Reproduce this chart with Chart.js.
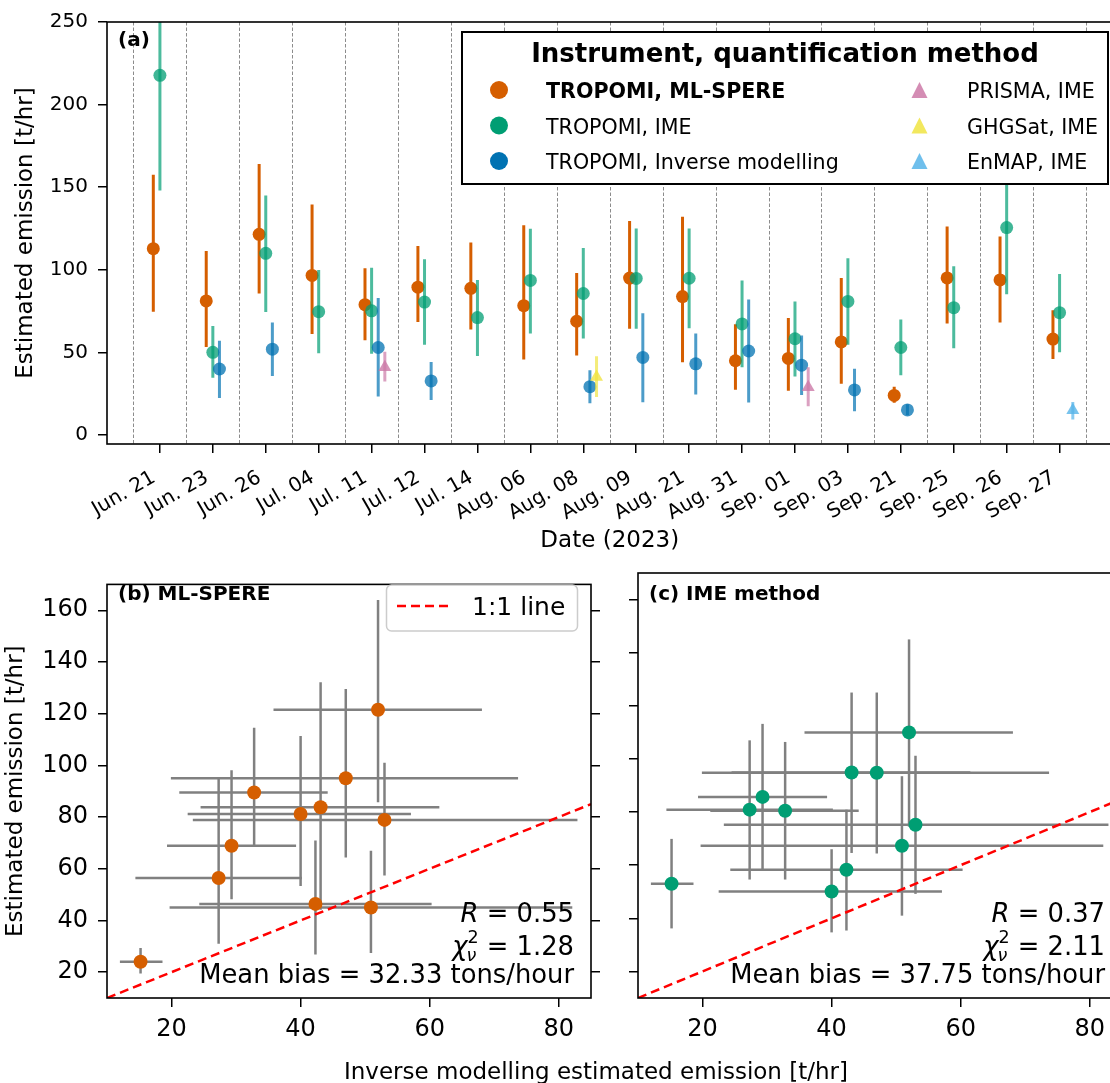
<!DOCTYPE html>
<html>
<head>
<meta charset="utf-8">
<script src="https://cdn.jsdelivr.net/npm/chart.js@4.4.0/dist/chart.umd.min.js"></script>
<style>
  html, body { margin: 0; padding: 0; width: 1110px; height: 1083px; overflow: hidden; background: #fff; position: relative; font-family: "DejaVu Sans", sans-serif; }
  .wrap { position: absolute; }
  #xtitle { position: absolute; left: 0; width: 1192px; top: 1058px; text-align: center; font-size: 23px; color: #000; white-space: nowrap; line-height: 27px; }
</style>
</head>
<body>
<div class="wrap" style="left:0;top:0;width:1120px;height:560px"><canvas id="top" width="1120" height="560"></canvas></div>
<div class="wrap" style="left:0;top:560px;width:600px;height:523px"><canvas id="pb" width="600" height="523"></canvas></div>
<div class="wrap" style="left:600px;top:560px;width:530px;height:523px"><canvas id="pc" width="530" height="523"></canvas></div>
<div id="xtitle">Inverse modelling estimated emission [t/hr]</div>

<script>
// Methane plume emission estimates, summer 2023

const dates = ['Jun. 21','Jun. 23','Jun. 26','Jul. 04','Jul. 11','Jul. 12','Jul. 14','Aug. 06','Aug. 08',
  'Aug. 09','Aug. 21','Aug. 31','Sep. 01','Sep. 03','Sep. 21','Sep. 25','Sep. 26','Sep. 27'];

// TROPOMI, ML-SPERE (value, lower, upper)
const mlVal = [112.8, 81.2, 121.5, 96.6, 78.9, 89.5, 88.8, 78.3, 68.9, 95.0, 83.8, 45.0, 46.4, 56.4, 24.0, 95.1, 93.9, 58.1];
const mlLo  = [74.7, 53.3, 85.7, 61.1, 57.4, 68.4, 63.9, 45.8, 48.2, 64.4, 44.1, 27.4, 26.8, 31.0, 19.5, 67.5, 68.1, 46.1];
const mlHi  = [157.6, 111.4, 164.0, 139.6, 101.0, 114.5, 116.6, 127.0, 98.1, 129.5, 132.1, 67.0, 70.9, 95.0, 29.3, 126.2, 120.2, 75.5];

// TROPOMI, IME
const imeVal = [217.7, 50.1, 110.0, 74.7, 75.2, 80.5, 71.1, 93.6, 85.7, 94.8, 94.9, 67.3, 58.3, 80.9, 53.0, 77.1, 125.6, 74.1];
const imeLo  = [148.0, 34.7, 74.5, 49.5, 49.2, 54.6, 47.9, 61.5, 58.4, 64.4, 64.6, 41.0, 35.4, 54.6, 36.2, 52.5, 85.2, 50.1];
const imeHi  = [288.0, 66.0, 145.0, 99.9, 101.2, 106.4, 93.9, 124.8, 113.2, 125.0, 125.0, 93.5, 80.9, 107.0, 69.9, 102.2, 168.0, 97.5];

// TROPOMI, inverse modelling
const invVal = [null, 40.0, 52.0, null, 53.0, 32.8, null, null, 29.3, 47.0, 43.1, 50.9, 42.3, 27.3, 15.2, null, null, null];
const invLo  = [null, 22.5, 35.8, null, 23.3, 21.2, null, null, 19.3, 19.9, 24.5, 19.7, 24.3, 14.4, 12.0, null, null, null];
const invHi  = [null, 57.1, 68.1, null, 82.9, 44.2, null, null, 39.3, 73.7, 61.5, 82.1, 60.3, 40.2, 18.6, null, null, null];

// hyperspectral / GHGSat overpasses
const prismaDates = ['Jul. 11', 'Sep. 01'];
const prismaVal = [41.1, 29.0], prismaLo = [32.5, 17.4], prismaHi = [50.5, 41.1];
const ghgsatDates = ['Aug. 08'];
const ghgsatVal = [35.1], ghgsatLo = [23.0], ghgsatHi = [47.7];
const enmapDates = ['Sep. 27'];
const enmapVal = [15.0], enmapLo = [9.4], enmapHi = [20.0];

const seriesNames = ['TROPOMI, ML-SPERE', 'TROPOMI, IME', 'TROPOMI, Inverse modelling', 'PRISMA, IME', 'GHGSat, IME', 'EnMAP, IME'];
const colors = ['#d55e00', '#009e73', '#0072b2', '#cc79a7', '#f0e442', '#56b4e9'];

const yTicksTop = [0, 50, 100, 150, 200, 250];
const xTicksSc = [20, 40, 60, 80];
const yTicksSc = [20, 40, 60, 80, 100, 120, 140, 160];
const oneToOne = [10, 85];
const statsB = ['0.55', '1.28', '32.33'];
const statsC = ['0.37', '2.11', '37.75'];

Chart.defaults.font.family = '"DejaVu Sans", sans-serif';
Chart.defaults.color = '#000';
Chart.defaults.animation = false;

function rgba(hex, a){
  const n = parseInt(hex.slice(1), 16);
  return `rgba(${n >> 16},${(n >> 8) & 255},${n & 255},${a})`;
}

function seriesPoints(vals, lo, hi, off){
  const out = [];
  vals.forEach((v, i) => { if (v != null) out.push({ x: i + off, y: v, ylo: lo[i], yhi: hi[i] }); });
  return out;
}
function sparsePoints(ds, vals, lo, hi, off){
  return ds.map((d, k) => ({ x: dates.indexOf(d) + off, y: vals[k], ylo: lo[k], yhi: hi[k] }));
}
function pairPoints(yv, ylo, yhi){
  const out = [];
  invVal.forEach((v, i) => { if (v != null) out.push({ x: v, xlo: invLo[i], xhi: invHi[i], y: yv[i], ylo: ylo[i], yhi: yhi[i] }); });
  return out;
}

// error bars drawn just under each dataset's markers
const errBars = {
  id: 'errBars',
  beforeDatasetDraw(chart, args){
    const ds = chart.data.datasets[args.index];
    if (!ds.errColor) return;
    const { ctx, chartArea: a } = chart;
    const xs = chart.scales[args.meta.xAxisID], ys = chart.scales[args.meta.yAxisID];
    ctx.save();
    ctx.beginPath(); ctx.rect(a.left, a.top, a.right - a.left, a.bottom - a.top); ctx.clip();
    ctx.strokeStyle = ds.errColor; ctx.lineWidth = ds.errWidth;
    ds.data.forEach(p => {
      const px = xs.getPixelForValue(p.x), py = ys.getPixelForValue(p.y);
      if (p.xlo != null){
        ctx.beginPath(); ctx.moveTo(xs.getPixelForValue(p.xlo), py); ctx.lineTo(xs.getPixelForValue(p.xhi), py); ctx.stroke();
      }
      if (p.ylo != null){
        ctx.beginPath(); ctx.moveTo(px, ys.getPixelForValue(p.ylo)); ctx.lineTo(px, ys.getPixelForValue(p.yhi)); ctx.stroke();
      }
    });
    ctx.restore();
  }
};

const frame = {
  id: 'frame',
  afterDatasetsDraw(chart){
    const { ctx, chartArea: a } = chart;
    ctx.save();
    ctx.strokeStyle = '#000'; ctx.lineWidth = 1.6;
    ctx.strokeRect(a.left, a.top, a.right - a.left, a.bottom - a.top);
    ctx.restore();
  }
};

// dashed separators between dates
const separators = {
  id: 'separators',
  beforeDatasetsDraw(chart){
    const { ctx, chartArea: a } = chart;
    const xs = chart.scales.x;
    ctx.save();
    ctx.strokeStyle = '#8c8c8c'; ctx.lineWidth = 1; ctx.setLineDash([3.5, 2]);
    for (let i = 0; i <= dates.length; i++){
      const x = Math.round(xs.getPixelForValue(i - 0.5)) + 0.5;
      ctx.beginPath(); ctx.moveTo(x, a.top); ctx.lineTo(x, a.bottom); ctx.stroke();
    }
    ctx.restore();
  }
};

const topLegend = {
  id: 'topLegend',
  afterDraw(chart){
    const ctx = chart.ctx;
    ctx.save();
    ctx.fillStyle = '#fff'; ctx.fillRect(462, 32, 646, 152);
    ctx.strokeStyle = '#000'; ctx.lineWidth = 2; ctx.strokeRect(462, 32, 646, 152);
    ctx.fillStyle = '#000'; ctx.textBaseline = 'alphabetic';
    ctx.textAlign = 'center'; ctx.font = 'bold 26px "DejaVu Sans"';
    ctx.fillText('Instrument, quantification method', 785, 62);
    ctx.textAlign = 'left';
    const ys = [90, 125.5, 161], bases = [98, 133.5, 169];
    for (let k = 0; k < 3; k++){
      ctx.fillStyle = colors[k];
      ctx.beginPath(); ctx.arc(499, ys[k], 9, 0, Math.PI * 2); ctx.fill();
      ctx.fillStyle = '#000'; ctx.font = (k === 0 ? 'bold ' : '') + '20.6px "DejaVu Sans"';
      ctx.fillText(seriesNames[k], 546, bases[k]);
      ctx.fillStyle = rgba(colors[k + 3], 0.85);
      ctx.beginPath(); ctx.moveTo(919.5, ys[k] - 8); ctx.lineTo(927.5, ys[k] + 8); ctx.lineTo(911.5, ys[k] + 8); ctx.closePath(); ctx.fill();
      ctx.fillStyle = '#000'; ctx.font = '20.6px "DejaVu Sans"';
      ctx.fillText(seriesNames[k + 3], 967, bases[k]);
    }
    ctx.font = 'bold 20px "DejaVu Sans"';
    ctx.fillText('(a)', 118, 46);
    ctx.restore();
  }
};

function fixedWidth(w){ return s => { s.width = w; }; }
function fixedHeight(h){ return s => { s.height = h; }; }
function setTicks(list){ return s => { s.ticks = list.map(v => ({ value: v })); }; }
const tickGrid = { display: true, drawOnChartArea: false, drawTicks: true, tickLength: 9, color: '#000', lineWidth: 1.5 };

const pointDs = (label, data, color, alpha, errAlpha, order, style, radius) => ({
  type: 'scatter', label, data, order,
  backgroundColor: rgba(color, alpha), borderWidth: 0,
  pointStyle: style, pointRadius: radius, pointBorderWidth: 0,
  errColor: rgba(color, errAlpha), errWidth: 3
});

new Chart(document.getElementById('top'), {
  type: 'scatter',
  data: {
    datasets: [
      pointDs(seriesNames[0], seriesPoints(mlVal, mlLo, mlHi, -0.125), colors[0], 1, 1, 6, 'circle', 6.5),
      pointDs(seriesNames[1], seriesPoints(imeVal, imeLo, imeHi, 0), colors[1], 0.75, 0.7, 5, 'circle', 6.5),
      pointDs(seriesNames[2], seriesPoints(invVal, invLo, invHi, 0.125), colors[2], 0.75, 0.7, 4, 'circle', 6.5),
      pointDs(seriesNames[3], sparsePoints(prismaDates, prismaVal, prismaLo, prismaHi, 0.25), colors[3], 0.8, 0.7, 3, 'triangle', 7.5),
      pointDs(seriesNames[4], sparsePoints(ghgsatDates, ghgsatVal, ghgsatLo, ghgsatHi, 0.25), colors[4], 0.8, 0.7, 2, 'triangle', 7.5),
      pointDs(seriesNames[5], sparsePoints(enmapDates, enmapVal, enmapLo, enmapHi, 0.25), colors[5], 0.8, 0.7, 1, 'triangle', 7.5)
    ]
  },
  options: {
    responsive: false, events: [],
    layout: { padding: { top: 19.5, right: 5, left: 0, bottom: 0 } },
    plugins: { legend: { display: false }, tooltip: { enabled: false } },
    scales: {
      x: {
        type: 'linear', min: -1, max: 18,
        afterBuildTicks: setTicks(dates.map((_, i) => i)),
        afterFit: fixedHeight(116),
        grid: tickGrid, border: { display: false },
        ticks: { autoSkip: false, minRotation: 30, maxRotation: 30, padding: 13, labelOffset: -6, font: { size: 20 },
          callback: v => dates[Math.round(v)] },
        title: { display: true, text: 'Date (2023)', font: { size: 23 }, padding: { top: 0, bottom: 5 } }
      },
      y: {
        min: -5.4, max: 250,
        afterBuildTicks: setTicks(yTicksTop),
        afterFit: fixedWidth(107),
        grid: tickGrid, border: { display: false },
        ticks: { padding: 10, font: { size: 20 } },
        title: { display: true, text: 'Estimated emission [t/hr]', font: { size: 23 }, padding: { top: 12, bottom: 0 } }
      }
    }
  },
  plugins: [separators, errBars, frame, topLegend]
});

function scatterPanel(id, opts){
  const panelText = {
    id: 'panelText',
    afterDraw(chart){
      const ctx = chart.ctx;
      const xr = opts.statsRight;
      ctx.save();
      ctx.fillStyle = '#000'; ctx.textBaseline = 'alphabetic';
      ctx.textAlign = 'left'; ctx.font = 'bold 20px "DejaVu Sans"';
      ctx.fillText(opts.tag, chart.chartArea.left + 11, 40);
      // R
      ctx.textAlign = 'right'; ctx.font = '25.8px "DejaVu Sans"';
      const t1 = ' = ' + opts.stats[0];
      ctx.fillText(t1, xr, 362);
      const w1 = ctx.measureText(t1).width;
      ctx.font = 'italic 25.8px "DejaVu Sans"'; ctx.fillText('R', xr - w1, 362);
      // reduced chi-square
      ctx.font = '25.8px "DejaVu Sans"';
      const t2 = ' = ' + opts.stats[1];
      ctx.fillText(t2, xr, 395);
      const w2 = ctx.measureText(t2).width;
      ctx.font = '17.5px "DejaVu Sans"';
      const sw = Math.max(ctx.measureText('2').width, ctx.measureText('ν').width);
      const sx = xr - w2 - sw;
      ctx.textAlign = 'left';
      ctx.fillText('2', sx, 383);
      ctx.font = 'italic 17.5px "DejaVu Sans"'; ctx.fillText('ν', sx - 1, 401);
      ctx.textAlign = 'right'; ctx.font = 'italic 25.8px "DejaVu Sans"'; ctx.fillText('χ', sx, 395);
      ctx.font = '25.8px "DejaVu Sans"';
      ctx.fillText('Mean bias = ' + opts.stats[2] + ' tons/hour', xr, 423);
      // 1:1 legend box
      if (opts.legend){
        const lx = 386.5, ly = 25, lw = 191, lh = 46;
        ctx.fillStyle = 'rgba(255,255,255,0.8)'; ctx.strokeStyle = '#cccccc'; ctx.lineWidth = 1.5;
        ctx.beginPath(); ctx.roundRect(lx, ly, lw, lh, 5); ctx.fill(); ctx.stroke();
        ctx.strokeStyle = '#ff0000'; ctx.lineWidth = 2.5; ctx.setLineDash([9, 5]);
        ctx.beginPath(); ctx.moveTo(397, 46); ctx.lineTo(449, 46); ctx.stroke();
        ctx.setLineDash([]);
        ctx.fillStyle = '#000'; ctx.textAlign = 'left'; ctx.font = '25px "DejaVu Sans"';
        ctx.fillText('1:1 line', 472, 55);
      }
      ctx.restore();
    }
  };
  const scales = {
    x: {
      type: 'linear', min: 10, max: 85,
      afterBuildTicks: setTicks(xTicksSc), afterFit: fixedHeight(85),
      grid: tickGrid, border: { display: false },
      ticks: { padding: 8, font: { size: 24 } }
    },
    y: {
      min: 10, max: 170,
      afterBuildTicks: setTicks(yTicksSc), afterFit: fixedWidth(opts.leftWidth),
      grid: tickGrid, border: { display: false },
      ticks: { display: opts.yLabels, padding: 10, font: { size: 24 } },
      title: { display: opts.yLabels, text: 'Estimated emission [t/hr]', font: { size: 23 }, padding: { top: 2, bottom: 0 } }
    }
  };
  if (opts.rightTicks){
    scales.y2 = {
      position: 'right', min: 10, max: 170,
      afterBuildTicks: setTicks(yTicksSc), afterFit: fixedWidth(9),
      grid: tickGrid, border: { display: false },
      ticks: { display: false }
    };
  }
  new Chart(document.getElementById(id), {
    type: 'scatter',
    data: {
      datasets: [
        { type: 'line', label: '1:1 line', data: oneToOne.map(v => ({ x: v, y: v })), order: 1,
          borderColor: '#ff0000', borderWidth: 2.5, borderDash: [9, 5], pointRadius: 0, fill: false },
        { type: 'scatter', label: opts.tag, data: opts.points, order: 2,
          backgroundColor: opts.color, pointRadius: 7, pointBorderWidth: 0, borderWidth: 0,
          errColor: '#808080', errWidth: 2.5 }
      ]
    },
    options: {
      responsive: false, events: [],
      layout: { padding: { top: 13, right: opts.padRight, left: 0, bottom: 0 } },
      plugins: { legend: { display: false }, tooltip: { enabled: false } },
      scales
    },
    plugins: [errBars, frame, panelText]
  });
}

scatterPanel('pb', {
  tag: '(b) ML-SPERE', points: pairPoints(mlVal, mlLo, mlHi), color: colors[0],
  stats: statsB, statsRight: 574, legend: true, leftWidth: 107, yLabels: true, rightTicks: true, padRight: 0
});
scatterPanel('pc', {
  tag: '(c) IME method', points: pairPoints(imeVal, imeLo, imeHi), color: colors[1],
  stats: statsC, statsRight: 505, legend: false, leftWidth: 38, yLabels: false, rightTicks: false, padRight: 8
});
</script>
</body>
</html>
